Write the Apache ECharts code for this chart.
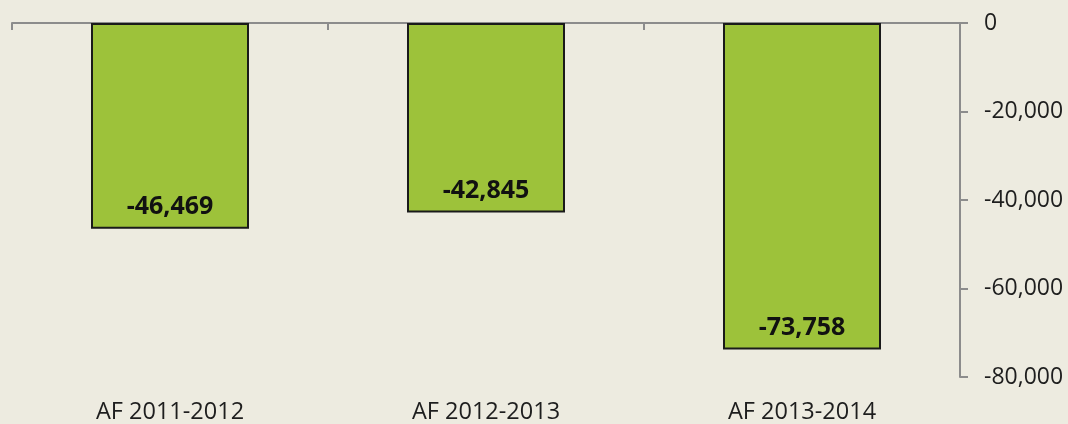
<!DOCTYPE html>
<html>
<head>
<meta charset="utf-8">
<script src="https://cdn.jsdelivr.net/npm/echarts@6/dist/echarts.min.js"></script>
<style>
  html, body { margin: 0; padding: 0; background: #edebe0; }
  #chart { width: 1068px; height: 424px; }
</style>
</head>
<body>
<div id="chart"></div>
<script>
const categories = ['AF 2011-2012', 'AF 2012-2013', 'AF 2013-2014']
const values = [-46469, -42845, -73758]
const yTicks = [0, -20000, -40000, -60000, -80000]

const fmt = v => v.toLocaleString('en-US')

const chart = echarts.init(document.getElementById('chart'))
chart.setOption({
  backgroundColor: '#edebe0',
  animation: false,
  textStyle: { fontFamily: 'Open Sans' },
  grid: { left: 12, right: 108, top: 23, bottom: 46 },
  xAxis: [
    {
      // the zero line with its tick marks
      type: 'category',
      data: categories,
      position: 'top',
      axisLine: { lineStyle: { color: '#8c8c8c', width: 2 } },
      axisTick: { show: true, interval: 0, inside: true, length: 7, lineStyle: { color: '#8c8c8c', width: 2 } },
      axisLabel: { show: false, interval: 0 }
    },
    {
      // category labels down at the bottom
      type: 'category',
      data: categories,
      position: 'bottom',
      axisLine: { show: false },
      axisTick: { show: false },
      axisLabel: { color: '#1e1e1e', fontSize: 23.5, margin: 23 }
    }
  ],
  yAxis: {
    type: 'value',
    position: 'right',
    min: yTicks[yTicks.length - 1],
    max: yTicks[0],
    interval: 20000,
    axisLine: { show: true, lineStyle: { color: '#8c8c8c', width: 2 } },
    axisTick: { show: true, length: 8, lineStyle: { color: '#8c8c8c', width: 2 } },
    splitLine: { show: false },
    axisLabel: { color: '#1e1e1e', fontSize: 23, margin: 24, formatter: v => fmt(v) }
  },
  series: [{
    type: 'bar',
    xAxisIndex: 0,
    data: values,
    barWidth: '50%',
    itemStyle: { color: '#9dc23a', borderColor: '#1a1a1a', borderWidth: 2 },
    label: {
      show: true,
      position: 'insideBottom',
      distance: 9,
      color: '#111',
      fontSize: 25,
      fontWeight: 'bold',
      formatter: p => fmt(p.value)
    }
  }]
})
</script>
</body>
</html>
